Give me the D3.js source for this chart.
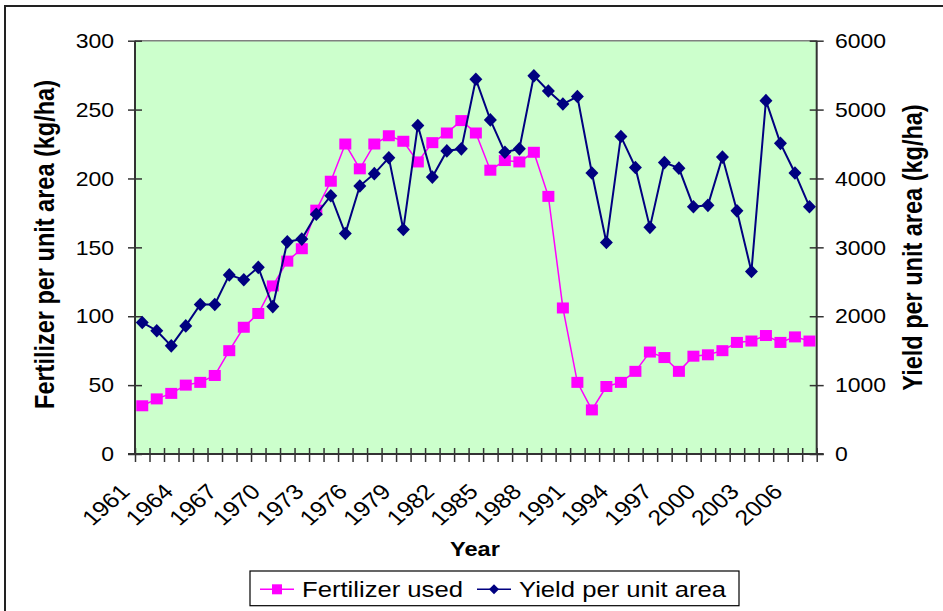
<!DOCTYPE html>
<html>
<head>
<meta charset="utf-8">
<script src="https://cdn.jsdelivr.net/npm/d3@7"></script>
<style>
  body { margin: 0; background: #fff; }
  svg { display: block; font-family: "Liberation Sans", Arial, sans-serif; }
</style>
</head>
<body>
<div id="chart"></div>
<script>
// DATA
const years = [1961, 1962, 1963, 1964, 1965, 1966, 1967, 1968, 1969, 1970,
  1971, 1972, 1973, 1974, 1975, 1976, 1977, 1978, 1979, 1980,
  1981, 1982, 1983, 1984, 1985, 1986, 1987, 1988, 1989, 1990,
  1991, 1992, 1993, 1994, 1995, 1996, 1997, 1998, 1999, 2000,
  2001, 2002, 2003, 2004, 2005, 2006, 2007];
const fertilizer = [35, 40, 44, 50, 52, 57, 75, 92, 102, 122,
  140, 149, 177, 198, 225, 207, 225, 231, 227, 212,
  226, 233, 242, 233, 206, 213, 212, 219, 187, 106,
  52, 32, 49, 52, 60, 74, 70, 60, 71, 72,
  75, 81, 82, 86, 81, 85, 82];
const yieldVals = [1910, 1790, 1570, 1860, 2170, 2170, 2600, 2530, 2710, 2140,
  3080, 3120, 3480, 3750, 3200, 3890, 4070, 4300, 3260, 4770,
  4020, 4400, 4430, 5440, 4850, 4380, 4430, 5490, 5270, 5080,
  5190, 4080, 3070, 4610, 4160, 3290, 4230, 4150, 3590, 3610,
  4310, 3530, 2650, 5130, 4510, 4080, 3590];
const leftTicks = [0, 50, 100, 150, 200, 250, 300];
const rightTicks = [0, 1000, 2000, 3000, 4000, 5000, 6000];
const yearLabels = [1961, 1964, 1967, 1970, 1973, 1976, 1979, 1982, 1985, 1988,
  1991, 1994, 1997, 2000, 2003, 2006];
const seriesNames = ["Fertilizer used", "Yield per unit area"];

const W = 943, H = 611;
const plot = { left: 135, right: 816.7, top: 40.7, bottom: 454 };
const pink = "#ff00ff", navy = "#000080", green = "#ccffcc";
const sx = 1.15; // picture is a bit wider than tall, text looks stretched

const svg = d3.select("#chart").append("svg")
  .attr("width", W).attr("height", H);

// outer chart border (cut off on right and bottom)
svg.append("rect")
  .attr("x", 5).attr("y", 6).attr("width", 960).attr("height", 640)
  .attr("fill", "#fff").attr("stroke", "#222").attr("stroke-width", 2);

// SCALES
const x = d3.scaleBand().domain(years).range([plot.left, plot.right]).padding(0);
const xi = d3.scaleLinear().domain([0, years.length]).range([plot.left, plot.right]);
const y = d3.scaleLinear().domain([0, 300]).range([plot.bottom, plot.top]);
const y2 = d3.scaleLinear().domain([0, 6000]).range([plot.bottom, plot.top]);
const cx = d => x(d) + x.bandwidth() / 2;

// plot background
svg.append("rect")
  .attr("x", plot.left).attr("y", plot.top)
  .attr("width", plot.right - plot.left).attr("height", plot.bottom - plot.top)
  .attr("fill", green);
svg.append("line")
  .attr("x1", plot.left).attr("x2", plot.right)
  .attr("y1", plot.top).attr("y2", plot.top)
  .attr("stroke", "#808080").attr("stroke-width", 1.5);

// helper for stretched text
function label(g, tx, ty, txt, size, opts = {}) {
  const t = g.append("text")
    .attr("transform", `translate(${tx},${ty}) scale(${sx},1)` + (opts.rotate ? ` rotate(${opts.rotate})` : ""))
    .attr("font-size", size)
    .attr("fill", "#000")
    .attr("text-anchor", opts.anchor || "start")
    .text(txt);
  if (opts.bold) t.attr("font-weight", "bold");
  if (opts.dy) t.attr("dy", opts.dy);
  return t;
}

// AXES
const axisColor = "#333";
const gLeft = svg.append("g").attr("transform", `translate(${plot.left},0)`)
  .call(d3.axisLeft(y).tickValues(leftTicks).tickSize(7).tickFormat(""));
const gRight = svg.append("g").attr("transform", `translate(${plot.right},0)`)
  .call(d3.axisRight(y2).tickValues(rightTicks).tickSize(7).tickFormat(""));
const gBottom = svg.append("g").attr("transform", `translate(0,${plot.bottom})`)
  .call(d3.axisBottom(xi).tickValues(d3.range(years.length + 1)).tickSize(8).tickFormat(""));

// cross tick marks like Excel
gLeft.selectAll(".tick line").attr("x1", 7).attr("x2", -7);
gRight.selectAll(".tick line").attr("x1", -7).attr("x2", 7);
gBottom.selectAll(".tick line").attr("y1", -6).attr("y2", 8);
[gLeft, gRight, gBottom].forEach(g => {
  g.selectAll("path.domain").attr("stroke", axisColor).attr("stroke-width", 2)
    .attr("d", null);
  g.selectAll(".tick line").attr("stroke", axisColor).attr("stroke-width", 1.5);
});
gLeft.append("line").attr("y1", plot.top).attr("y2", plot.bottom)
  .attr("stroke", axisColor).attr("stroke-width", 2);
gRight.append("line").attr("y1", plot.top).attr("y2", plot.bottom)
  .attr("stroke", axisColor).attr("stroke-width", 2);
gBottom.append("line").attr("x1", plot.left - 7).attr("x2", plot.right + 7)
  .attr("stroke", axisColor).attr("stroke-width", 2);

// tick labels
const gText = svg.append("g");
leftTicks.forEach(v => label(gText, 114, y(v), v, 20, { anchor: "end", dy: "0.36em" }));
rightTicks.forEach(v => label(gText, 835, y2(v), v, 20, { dy: "0.36em" }));
yearLabels.forEach(yr => label(gText, cx(yr) - 11, 493, yr, 21.5, { anchor: "end", rotate: -45 }));

// axis titles
label(gText, 475, 556, "Year", 20.5, { anchor: "middle", bold: true });
label(gText, 54, 244.5, "Fertilizer per unit area (kg/ha)", 23.5, { anchor: "middle", bold: true, rotate: -90 });
label(gText, 922, 247.5, "Yield per unit area (kg/ha)", 23.5, { anchor: "middle", bold: true, rotate: -90 });

// SERIES
const fertLine = d3.line().x((d, i) => cx(years[i])).y(d => y(d));
const yieldLine = d3.line().x((d, i) => cx(years[i])).y(d => y2(d));
const diamond = "M0,-6.8L6.5,0L0,6.8L-6.5,0Z";

svg.append("path").datum(fertilizer)
  .attr("d", fertLine).attr("fill", "none")
  .attr("stroke", pink).attr("stroke-width", 1.5);
svg.append("g").selectAll("rect").data(fertilizer).enter().append("rect")
  .attr("x", (d, i) => cx(years[i]) - 6).attr("y", d => y(d) - 5.5)
  .attr("width", 12).attr("height", 11)
  .attr("fill", pink);

svg.append("path").datum(yieldVals)
  .attr("d", yieldLine).attr("fill", "none")
  .attr("stroke", navy).attr("stroke-width", 2);
svg.append("g").selectAll("path").data(yieldVals).enter().append("path")
  .attr("transform", (d, i) => `translate(${cx(years[i])},${y2(d)})`)
  .attr("d", diamond).attr("fill", navy);

// LEGEND
const legend = svg.append("g");
legend.append("rect")
  .attr("x", 250).attr("y", 571).attr("width", 489).attr("height", 34.7)
  .attr("fill", "#fff").attr("stroke", "#000").attr("stroke-width", 1.2);
const legendItems = [
  { name: seriesNames[0], color: pink, x: 260, shape: "square" },
  { name: seriesNames[1], color: navy, x: 477, shape: "diamond" }
];
legendItems.forEach(it => {
  legend.append("line")
    .attr("x1", it.x).attr("x2", it.x + 34)
    .attr("y1", 589.3).attr("y2", 589.3)
    .attr("stroke", it.color).attr("stroke-width", 1.5);
  if (it.shape === "square") {
    legend.append("rect").attr("x", it.x + 17 - 5).attr("y", 589.3 - 5)
      .attr("width", 10).attr("height", 10).attr("fill", it.color);
  } else {
    legend.append("path").attr("transform", `translate(${it.x + 17},589.3)`)
      .attr("d", "M0,-5L5,0L0,5L-5,0Z").attr("fill", it.color);
  }
  label(legend, it.x + 42, 597, it.name, 22.3);
});
</script>
</body>
</html>
